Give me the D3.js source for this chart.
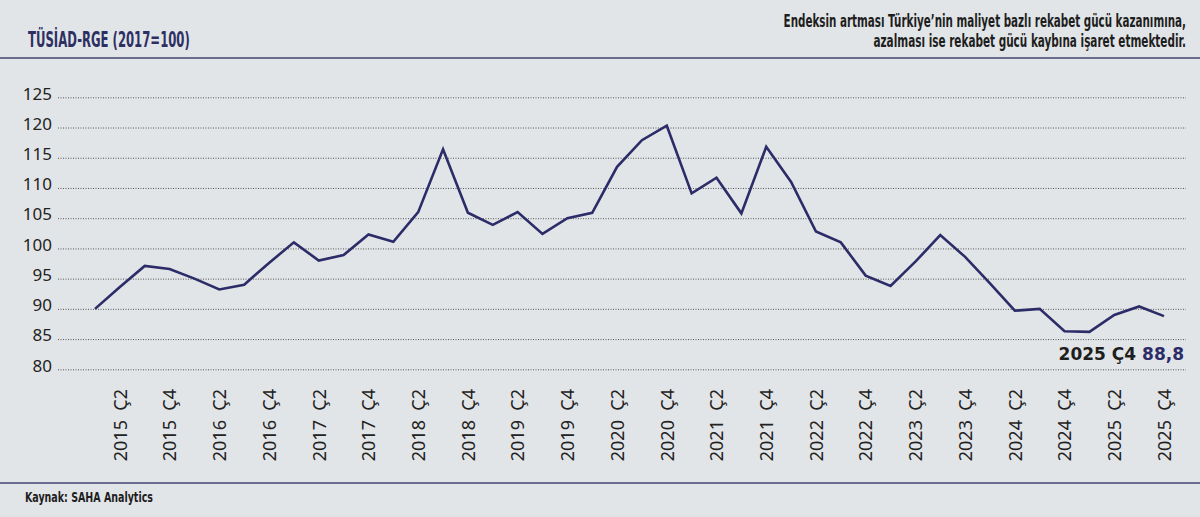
<!DOCTYPE html>
<html>
<head>
<meta charset="utf-8">
<script src="https://cdn.jsdelivr.net/npm/d3@7"></script>
<style>
  body { margin: 0; background: #e2e5e7; }
  svg { display: block; }
  .cond { font-family: "Liberation Sans Narrow", "DejaVu Sans Condensed", "Roboto", sans-serif; }
  .tick text { font-family: "Noto Sans", "Open Sans", sans-serif; fill: #222; }
</style>
</head>
<body>
<svg id="chart" width="1200" height="517"></svg>
<script>
// quarters 2015 Ç1 .. 2025 Ç4
const years = [2015, 2016, 2017, 2018, 2019, 2020, 2021, 2022, 2023, 2024, 2025];
const quarters = ["Ç1", "Ç2", "Ç3", "Ç4"];
const rgeValues = [
  90.0, 93.6, 97.1, 96.6, 95.0, 93.2, 94.0, 97.6,
  101.0, 98.0, 98.9, 102.3, 101.1, 106.0, 116.4, 105.9,
  103.9, 106.0, 102.4, 105.0, 105.9, 113.5, 117.9, 120.3,
  109.1, 111.7, 105.8, 116.8, 111.0, 102.8, 101.0, 95.5,
  93.8, 97.8, 102.2, 98.6, 94.2, 89.7, 90.0, 86.3,
  86.2, 89.0, 90.4, 88.8
];
const yTicks = [80, 85, 90, 95, 100, 105, 110, 115, 120, 125];
const lastLabel = "2025 Ç4";
const lastValue = "88,8";

const categories = [];
years.forEach(y => quarters.forEach(q => categories.push(y + " " + q)));
const data = categories.map((c, i) => ({ cat: c, value: rgeValues[i] }));

const svg = d3.select("#chart");
const navy = "#2c2c68";

// condensed text: draw at natural width, then squeeze horizontally to the wanted width
function condText(txt, px, py, size, width, anchor, color) {
  const g = svg.append("g").attr("transform", `translate(${px},${py})`);
  const t = g.append("text").attr("class", "cond")
    .attr("font-size", size).attr("font-weight", "bold").attr("fill", color)
    .attr("text-anchor", anchor)
    .text(txt);
  const w = t.node().getComputedTextLength();
  t.attr("transform", `scale(${width / w},1)`);
}

// header
condText("TÜSİAD-RGE (2017=100)", 28, 47, 21, 162, "start", "#2e3064");
condText("Endeksin artması Türkiye’nin maliyet bazlı rekabet gücü kazanımına,", 1186, 27, 17, 403, "end", "#1e1e1e");
condText("azalması ise rekabet gücü kaybına işaret etmektedir.", 1186, 47, 17, 313, "end", "#1e1e1e");

svg.append("line").attr("x1", 0).attr("x2", 1200).attr("y1", 58).attr("y2", 58)
  .attr("stroke", "#6c6c8e").attr("stroke-width", 2);
svg.append("line").attr("x1", 0).attr("x2", 1200).attr("y1", 483).attr("y2", 483)
  .attr("stroke", "#6c6c8e").attr("stroke-width", 2);

condText("Kaynak: SAHA Analytics", 25, 502, 14.5, 128, "start", "#1e1e1e");

// scales
const x = d3.scalePoint().domain(categories).range([95, 1164]);
const y = d3.scaleLinear().domain([80, 125]).range([369.3, 97.3]);

// y axis + dotted grid
const gy = svg.append("g").attr("transform", "translate(58,0)")
  .call(d3.axisLeft(y).tickValues(yTicks).tickSize(-(1186 - 58)).tickPadding(6));
gy.select(".domain").remove();
gy.selectAll(".tick line").attr("stroke", "#555").attr("stroke-dasharray", "1,1.5").attr("stroke-width", 1);
gy.selectAll(".tick text").attr("font-size", 17).attr("dy", "0.1em");

// x axis, labels on Ç2 and Ç4
const xTicks = categories.filter(c => c.endsWith("Ç2") || c.endsWith("Ç4"));
const gx = svg.append("g").attr("transform", "translate(0,384)")
  .call(d3.axisBottom(x).tickValues(xTicks).tickSize(0));
gx.select(".domain").remove();
gx.selectAll(".tick text")
  .attr("font-size", 18)
  .attr("transform", "rotate(-90)")
  .attr("text-anchor", "end")
  .attr("x", -5).attr("y", 0).attr("dy", "0.35em")
  .attr("xml:space", "preserve")
  .text(d => d.replace(" ", "  "));

// line
svg.append("path").datum(data)
  .attr("fill", "none").attr("stroke", navy).attr("stroke-width", 2.6)
  .attr("stroke-linejoin", "miter")
  .attr("d", d3.line().x(d => x(d.cat)).y(d => y(d.value)));

// end annotation
const ann = svg.append("text")
  .attr("x", 1184).attr("y", 360).attr("text-anchor", "end")
  .attr("font-family", "DejaVu Sans, sans-serif")
  .attr("font-size", 17).attr("font-weight", "bold");
ann.append("tspan").attr("fill", "#1e1e1e").text(lastLabel + " ");
ann.append("tspan").attr("fill", navy).text(lastValue);
</script>
</body>
</html>
